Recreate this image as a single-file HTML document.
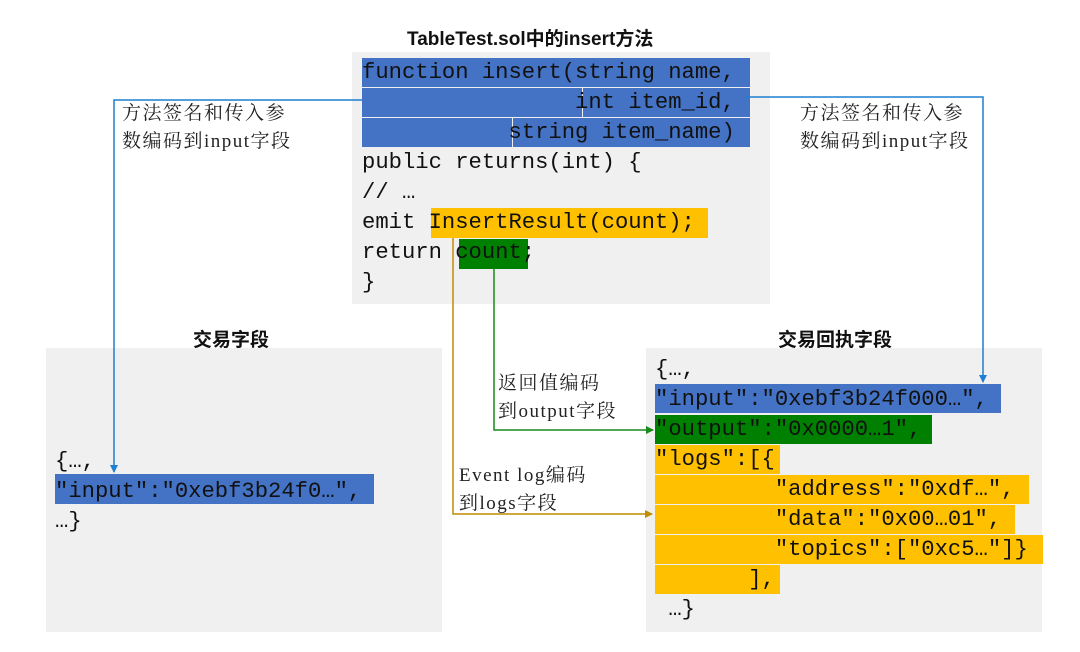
<!DOCTYPE html>
<html><head><meta charset="utf-8"><style>
body{margin:0;width:1080px;height:652px;background:#fff;position:relative;overflow:hidden}
.a{position:absolute}
.m{font-family:"Liberation Mono",monospace;font-size:22.2px;line-height:30px;color:#111;white-space:pre}
.t{font-family:"Liberation Sans","Noto Sans CJK SC",sans-serif;font-weight:bold;font-size:19px;color:#111;white-space:nowrap}
.s{font-family:"Liberation Serif","Noto Serif CJK SC",serif;font-size:19px;line-height:28px;color:#222;white-space:pre;letter-spacing:1.5px}
.b{background:#4472c4}.g{background:#008000}.o{background:#ffc000}.gr{background:#f0f0f0}
</style></head><body>
<div class="a t" style="left:407px;top:24px">TableTest.sol中的insert方法</div>
<div class="a gr" style="left:352px;top:52px;width:418px;height:252px"></div>
<div class="a b" style="left:362px;top:58px;width:388px;height:29px"></div>
<div class="a b" style="left:362px;top:88px;width:220px;height:29px"></div>
<div class="a b" style="left:583px;top:88px;width:167px;height:29px"></div>
<div class="a b" style="left:362px;top:118px;width:150px;height:29px"></div>
<div class="a b" style="left:513px;top:118px;width:237px;height:29px"></div>
<div class="a o" style="left:431px;top:208px;width:277px;height:30px"></div>
<div class="a g" style="left:459px;top:239px;width:69px;height:30px"></div>
<div class="a m" style="left:362px;top:58px">function insert(string name,
                int item_id,
           string item_name)
public returns(int) {
// …
emit InsertResult(count);
return count;
}</div>

<div class="a t" style="left:193px;top:325px">交易字段</div>
<div class="a gr" style="left:46px;top:348px;width:396px;height:284px"></div>
<div class="a b" style="left:55px;top:474px;width:319px;height:30px"></div>
<div class="a m" style="left:55px;top:447px">{…,
"input":"0xebf3b24f0…",
…}</div>

<div class="a t" style="left:778px;top:325px">交易回执字段</div>
<div class="a gr" style="left:646px;top:348px;width:396px;height:284px"></div>
<div class="a b" style="left:655px;top:384px;width:346px;height:29px"></div>
<div class="a g" style="left:655px;top:415px;width:277px;height:29px"></div>
<div class="a o" style="left:655px;top:445px;width:125px;height:29px"></div>
<div class="a o" style="left:655px;top:475px;width:374px;height:29px"></div>
<div class="a o" style="left:655px;top:505px;width:360px;height:29px"></div>
<div class="a o" style="left:655px;top:535px;width:388px;height:29px"></div>
<div class="a o" style="left:655px;top:565px;width:125px;height:29px"></div>
<div class="a m" style="left:655px;top:355px">{…,
"input":"0xebf3b24f000…",
"output":"0x0000…1",
"logs":[{
         "address":"0xdf…",
         "data":"0x00…01",
         "topics":["0xc5…"]}
       ],
 …}</div>

<svg class="a" style="left:0;top:0" width="1080" height="652">
<defs>
<marker id="mb" markerWidth="8" markerHeight="8" refX="7" refY="4" orient="auto" markerUnits="userSpaceOnUse"><path d="M0,0L8,4L0,8z" fill="#1f7fd0"/></marker>
<marker id="mg" markerWidth="8" markerHeight="8" refX="7" refY="4" orient="auto" markerUnits="userSpaceOnUse"><path d="M0,0L8,4L0,8z" fill="#1a8a1a"/></marker>
<marker id="mo" markerWidth="8" markerHeight="8" refX="7" refY="4" orient="auto" markerUnits="userSpaceOnUse"><path d="M0,0L8,4L0,8z" fill="#c08c00"/></marker>
</defs>
<polyline points="362,100 114,100 114,472" fill="none" stroke="#1f7fd0" stroke-width="1.5" marker-end="url(#mb)"/>
<polyline points="746,97 983,97 983,382" fill="none" stroke="#1f7fd0" stroke-width="1.5" marker-end="url(#mb)"/>
<polyline points="494,269 494,430 653,430" fill="none" stroke="#1a8a1a" stroke-width="1.5" marker-end="url(#mg)"/>
<polyline points="453,238 453,514 652,514" fill="none" stroke="#c08c00" stroke-width="1.5" marker-end="url(#mo)"/>
</svg>
<div class="a s" style="left:122px;top:100px">方法签名和传入参
数编码到input字段</div>
<div class="a s" style="left:800px;top:100px">方法签名和传入参
数编码到input字段</div>
<div class="a s" style="left:498px;top:370px">返回值编码
到output字段</div>
<div class="a s" style="left:459px;top:462px">Event log编码
到logs字段</div>
</body></html>
